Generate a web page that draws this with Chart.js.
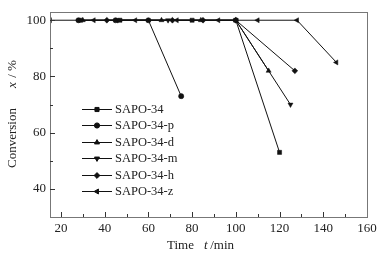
<!DOCTYPE html>
<html>
<head>
<meta charset="utf-8">
<script src="https://cdn.jsdelivr.net/npm/chart.js@4/dist/chart.umd.min.js"></script>
<style>
  html, body { margin: 0; padding: 0; background: #fff; }
  #wrap { width: 385px; height: 259px; position: relative; }
</style>
</head>
<body>
<div id="wrap"><canvas id="chart"></canvas></div>
<script>
// series names
var series_names = ["SAPO-34", "SAPO-34-p", "SAPO-34-d", "SAPO-34-m", "SAPO-34-h", "SAPO-34-z"];

// time (min) and conversion (%)
var t_34 = [29, 47, 80, 100, 120];
var x_34 = [100, 100, 100, 100, 53];
var t_34p = [28, 45, 60, 75];
var x_34p = [100, 100, 100, 73];
var t_34d = [30, 66, 84, 100, 115];
var x_34d = [100, 100, 100, 100, 82];
var t_34m = [46, 69, 100, 125];
var x_34m = [100, 100, 100, 70];
var t_34h = [41, 71, 85, 100, 127];
var x_34h = [100, 100, 100, 100, 82];
var t_34z = [15, 35, 54, 73, 92, 110, 128, 146];
var x_34z = [100, 100, 100, 100, 100, 100, 100, 85];

var x_tick_labels = [20, 40, 60, 80, 100, 120, 140, 160];
var y_tick_labels = [40, 60, 80, 100];

var marker_styles = [
    { style: "rect", rot: 0 },
    { style: "circle", rot: 0 },
    { style: "triangle", rot: 0 },
    { style: "triangle", rot: 180 },
    { style: "rectRot", rot: 0 },
    { style: "triangle", rot: -90 }
];

var all_t = [t_34, t_34p, t_34d, t_34m, t_34h, t_34z];
var all_x = [x_34, x_34p, x_34d, x_34m, x_34h, x_34z];

var SERIF = "'Liberation Serif', 'Times New Roman', serif";

function build_points(ts, xs){
    return ts.map(function(t, i){ return { x: t, y: xs[i] }; });
}

var datasets = [];
for (var i = 0; i < series_names.length; i++) {
    datasets.push({
        label: series_names[i],
        data: build_points(all_t[i], all_x[i]),
        borderColor: "#111",
        backgroundColor: "#111",
        borderWidth: 1,
        pointStyle: marker_styles[i].style,
        rotation: marker_styles[i].rot,
        pointRadius: marker_styles[i].style == "circle" ? 2.6 : 2.9,
        pointBorderWidth: 0.5,
        tension: 0
    });
}

// frame, inward ticks, legend and axis titles
var decor_plugin = {
    id: "decor",
    afterDraw: function(chart){
        var ctx = chart.ctx;
        var area = chart.chartArea;
        var xs = chart.scales.x, ys = chart.scales.y;
        ctx.save();

        // box
        ctx.strokeStyle = "#777";
        ctx.lineWidth = 1;
        ctx.strokeRect(Math.round(area.left) + 0.5, Math.round(area.top) + 0.5,
            Math.round(area.right - area.left), Math.round(area.bottom - area.top));

        // x ticks (major every 20, minor every 10)
        ctx.strokeStyle = "#333";
        for (var v = 20; v <= 150; v += 10) {
            var px = Math.round(xs.getPixelForValue(v)) + 0.5;
            var len = (v % 20 === 0) ? 5 : 3;
            ctx.beginPath();
            ctx.moveTo(px, area.bottom);
            ctx.lineTo(px, area.bottom - len);
            ctx.stroke();
        }
        // y ticks
        for (var w = 40; w <= 100; w += 10) {
            var py = Math.round(ys.getPixelForValue(w)) + 0.5;
            var ylen = (w % 20 === 0) ? 5 : 3;
            ctx.beginPath();
            ctx.moveTo(area.left, py);
            ctx.lineTo(area.left + ylen, py);
            ctx.stroke();
        }

        // legend
        var lx0 = 82, lx1 = 112, ly = 109, step = 16.4;
        ctx.font = "12.5px " + SERIF;
        ctx.textBaseline = "middle";
        ctx.textAlign = "left";
        chart.data.datasets.forEach(function(ds, k){
            var y = Math.round(ly + k * step) + 0.5;
            ctx.strokeStyle = "#111";
            ctx.lineWidth = 1;
            ctx.beginPath();
            ctx.moveTo(lx0, y);
            ctx.lineTo(lx1, y);
            ctx.stroke();
            ctx.fillStyle = "#111";
            Chart.helpers.drawPoint(ctx, {
                pointStyle: ds.pointStyle,
                rotation: ds.rotation,
                radius: ds.pointRadius,
                borderWidth: 0.5
            }, (lx0 + lx1) / 2, y);
            ctx.fillStyle = "#222";
            ctx.fillText(ds.label, 115, y);
        });

        // x title
        ctx.fillStyle = "#222";
        ctx.textBaseline = "middle";
        ctx.font = "13px " + SERIF;
        ctx.fillText("Time", 167, 246);
        ctx.font = "italic 13px " + SERIF;
        ctx.fillText("t", 204, 246);
        ctx.font = "13px " + SERIF;
        ctx.fillText(" /min", 207, 246);

        // y title
        ctx.translate(13, 168);
        ctx.rotate(-Math.PI / 2);
        ctx.font = "13px " + SERIF;
        ctx.fillText("Conversion", 0, 0);
        ctx.font = "italic 13px " + SERIF;
        ctx.fillText("x", 80, 0);
        ctx.font = "13px " + SERIF;
        ctx.fillText(" / %", 87, 0);
        ctx.restore();
    }
};

new Chart(document.getElementById("chart"), {
    type: "line",
    data: { datasets: datasets },
    options: {
        responsive: true,
        maintainAspectRatio: false,
        animation: false,
        layout: { padding: { top: 10, right: 18, left: 0, bottom: 0 } },
        plugins: {
            legend: { display: false },
            tooltip: { enabled: false }
        },
        scales: {
            x: {
                type: "linear",
                min: 15,
                max: 160,
                grid: { display: false, drawTicks: false },
                border: { display: false },
                afterBuildTicks: function(scale){
                    scale.ticks = x_tick_labels.map(function(v){ return { value: v }; });
                },
                ticks: {
                    autoSkip: false,
                    maxRotation: 0,
                    padding: 4,
                    color: "#222",
                    font: { family: SERIF, size: 13 }
                },
                afterFit: function(scale){ scale.height = 42; }
            },
            y: {
                min: 30,
                max: 103,
                grid: { display: false, drawTicks: false },
                border: { display: false },
                afterBuildTicks: function(scale){
                    scale.ticks = y_tick_labels.map(function(v){ return { value: v }; });
                },
                ticks: {
                    autoSkip: false,
                    padding: 4,
                    color: "#222",
                    font: { family: SERIF, size: 13 }
                },
                afterFit: function(scale){ scale.width = 50; }
            }
        }
    },
    plugins: [decor_plugin]
});
</script>
</body>
</html>
